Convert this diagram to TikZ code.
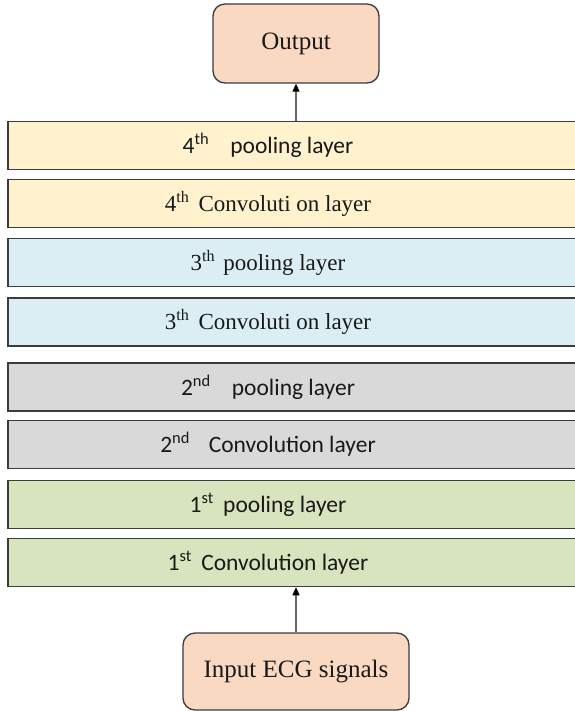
\documentclass[tikz,border=0pt]{standalone}
\usepackage{fontspec}
\setmainfont{Liberation Serif}
\newfontfamily\calib{Carlito}
\usetikzlibrary{arrows.meta}
\definecolor{orangefill}{RGB}{250,217,194}
\definecolor{yellowfill}{RGB}{255,242,204}
\definecolor{bluefill}{RGB}{218,238,243}
\definecolor{greyfill}{RGB}{217,217,217}
\definecolor{greenfill}{RGB}{215,228,189}
\definecolor{edgecol}{RGB}{60,60,60}
\definecolor{txtcol}{RGB}{25,25,25}
\tikzset{
  endbox/.style={draw=edgecol, line width=1.3pt, fill=orangefill, rounded corners=12pt, inner sep=0pt, text=txtcol, font=\fontsize{25}{28}\selectfont},
  layerbox/.style={draw=edgecol, line width=1.5pt, inner sep=0pt, minimum width=572pt, minimum height=48pt},
  serifText/.style={text=txtcol, inner sep=0pt, font=\fontsize{23}{26}\selectfont},
  sansText/.style={text=txtcol, inner sep=0pt, font=\calib\fontsize{23.5}{26}\selectfont},
  flow/.style={draw=black!60, line width=1.2pt, -{Triangle[length=8pt,width=7pt,fill=black,color=black]}}
}
\begin{document}
\begin{tikzpicture}[x=1pt,y=-1pt]
\useasboundingbox (0,0) rectangle (574,711);
\fill[white] (0,0) rectangle (574,711);
% end boxes
\node[endbox, minimum width=166pt, minimum height=79pt] (out) at (296,43.5) {Output};
\node[endbox, minimum width=226pt, minimum height=77pt] (inp) at (296,671.5) {Input ECG signals};
% layer boxes
\node[layerbox, fill=yellowfill] (p4) at (294,145.5) {};
\node[layerbox, fill=yellowfill] (c4) at (294,203.5) {};
\node[layerbox, fill=bluefill]   (p3) at (294,262.5) {};
\node[layerbox, fill=bluefill]   (c3) at (294,322) {};
\node[layerbox, fill=greyfill]   (p2) at (294,387) {};
\node[layerbox, fill=greyfill]   (c2) at (294,444.5) {};
\node[layerbox, fill=greenfill]  (p1) at (294,504.5) {};
\node[layerbox, fill=greenfill]  (c1) at (294,562.5) {};
% texts
\node[sansText]  (tp4) at (268,145.5) {4\textsuperscript{th}\hspace{0.9em}pooling layer};
\node[serifText] (tc4) at (268,203.5) {4\textsuperscript{th}\hspace{0.4em}Convoluti on layer};
\node[serifText] (tp3) at (268,262.5) {3\textsuperscript{th}\hspace{0.35em}pooling layer};
\node[serifText] (tc3) at (268,322) {3\textsuperscript{th}\hspace{0.4em}Convoluti on layer};
\node[sansText]  (tp2) at (268,387) {2\textsuperscript{nd}\hspace{0.9em}pooling layer};
\node[sansText]  (tc2) at (268,444.5) {2\textsuperscript{nd}\hspace{0.8em}Convolution layer};
\node[sansText]  (tp1) at (268,504.5) {1\textsuperscript{st}\hspace{0.4em}pooling layer};
\node[sansText]  (tc1) at (268,562.5) {1\textsuperscript{st}\hspace{0.4em}Convolution layer};
% arrows
\draw[flow] (p4.north -| out.south) -- (out.south);
\draw[flow] (inp.north) -- (inp.north |- c1.south);
\end{tikzpicture}
\end{document}
